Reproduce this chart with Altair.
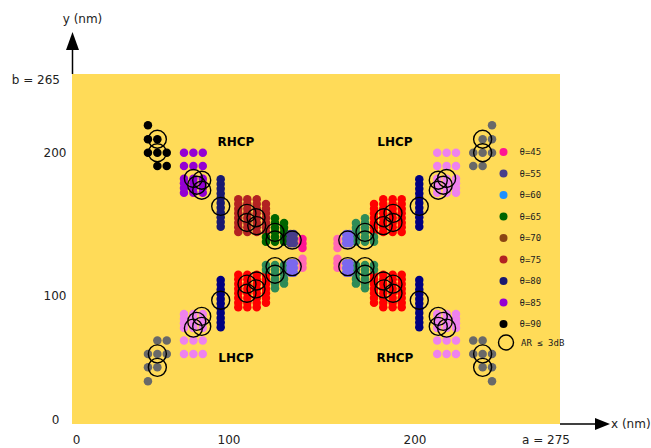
import altair as alt
import pandas as pd

# ---- legend categories -------------------------------------------------
THETA_LABELS = ["θ=45", "θ=55", "θ=60", "θ=65", "θ=70", "θ=75", "θ=80", "θ=85", "θ=90"]
DARK_COLORS = ["deeppink", "darkslateblue", "dodgerblue", "darkgreen", "saddlebrown",
               "firebrick", "midnightblue", "darkviolet", "black"]
LIGHT_COLORS = ["hotpink", "mediumslateblue", "lightskyblue", "seagreen", "peru",
                "red", "navy", "violet", "dimgray"]
AR_LABEL = "AR ≤ 3dB"

# ---- upper-left quadrant of the unit cell (nm) -------------------------
theta90_x = [42.8, 42.8, 48.1, 42.8, 48.1, 53.4, 48.1, 53.4]
theta90_y = [226.2, 215.6, 215.6, 205.4, 205.4, 205.4, 195.3, 195.3]

theta85_x = [63.1, 68.4, 73.7, 63.1, 68.4, 73.7, 63.1, 68.4, 73.7,
             63.1, 68.4, 73.7, 63.1, 68.4, 73.7, 63.1, 68.4, 73.7]
theta85_y = [205.4, 205.4, 205.4, 195.3, 195.3, 195.3, 185.7, 185.7, 185.7,
             182.2, 182.2, 182.2, 178.7, 178.7, 178.7, 175.1, 175.1, 175.1]

theta80_x = [83.8, 83.8, 83.8, 83.8, 83.8, 83.8, 83.8, 83.8, 83.8, 83.8, 83.8]
theta80_y = [185.3, 181.7, 178.2, 174.5, 171.0, 167.3, 163.8, 160.2, 156.6, 152.9, 149.4]

theta75_x = [93.7, 93.7, 93.7, 93.7, 93.7, 93.7, 93.7, 93.7,
             98.8, 98.8, 98.8, 98.8, 98.8, 98.8, 98.8, 98.8,
             104.1, 104.1, 104.1, 104.1, 104.1, 104.1, 104.1, 104.1,
             109.3, 109.3, 109.3, 109.3, 109.3, 109.3, 109.3]
theta75_y = [170.1, 166.6, 163.0, 159.5, 156.0, 152.4, 148.9, 145.4,
             170.1, 166.6, 163.0, 159.5, 156.0, 152.4, 148.9, 145.4,
             170.1, 166.6, 163.0, 159.5, 156.0, 152.4, 148.9, 145.4,
             166.6, 163.0, 159.5, 156.0, 152.4, 148.9, 145.4]

theta65_x = [109.3, 109.3,
             114.4, 114.4, 114.4, 114.4, 114.4, 114.4,
             119.5, 119.5, 119.5, 119.5, 119.5]
theta65_y = [141.6, 138.0,
             155.7, 152.2, 148.6, 145.1, 141.6, 138.0,
             152.2, 148.6, 145.1, 141.6, 138.0]

theta55_x = [123.1, 123.1, 123.1, 125.0, 125.0, 125.0]
theta55_y = [143.9, 140.3, 136.8, 143.9, 140.3, 136.8]

theta45_x = [129.9, 129.9, 129.9]
theta45_y = [140.1, 136.7, 133.3]

# designs with axial ratio below 3 dB
ar_x = [48.1, 48.1, 68.4, 73.1, 70.3, 73.1, 83.8, 98.6, 98.6, 103.7, 104.1, 114.4, 114.4, 124.1]
ar_y = [215.6, 205.4, 185.9, 184.6, 180.8, 177.0, 164.8, 159.5, 152.6, 156.2, 150.2, 145.1, 139.3, 139.3]

# the cell is symmetric about these two lines (nm)
MIRROR_X = 139.75
MIRROR_Y = 129.24

# handedness annotations
hand_text = ["RHCP", "LHCP", "LHCP", "RHCP"]
hand_x = [92.4, 182.0, 92.4, 182.0]
hand_y = [213.5, 213.5, 50.0, 50.0]

# tick labels (drawn as text beside the cell)
y_tick_labels = ["b = 265", "200", "100", "0"]
x_tick_labels = ["0", "100", "200", "a = 275"]

clusters = [
    ("θ=90", theta90_x, theta90_y),
    ("θ=85", theta85_x, theta85_y),
    ("θ=80", theta80_x, theta80_y),
    ("θ=75", theta75_x, theta75_y),
    ("θ=65", theta65_x, theta65_y),
    ("θ=55", theta55_x, theta55_y),
    ("θ=45", theta45_x, theta45_y),
]

dark_rows, light_rows = [], []
for label, xs, ys in clusters:
    for x, y in zip(xs, ys):
        dark_rows.append({"theta": label, "x": x, "y": y})
        light_rows.append({"theta": label, "x": 2 * MIRROR_X - x, "y": y})
        light_rows.append({"theta": label, "x": x, "y": 2 * MIRROR_Y - y})
        light_rows.append({"theta": label, "x": 2 * MIRROR_X - x, "y": 2 * MIRROR_Y - y})

ar_rows = []
for x, y in zip(ar_x, ar_y):
    for xx, yy in [(x, y), (2 * MIRROR_X - x, y), (x, 2 * MIRROR_Y - y),
                   (2 * MIRROR_X - x, 2 * MIRROR_Y - y)]:
        ar_rows.append({"x": xx, "y": yy, "ar": AR_LABEL})

dark_df = pd.DataFrame(dark_rows)
light_df = pd.DataFrame(light_rows)
ar_df = pd.DataFrame(ar_rows)
hand_df = pd.DataFrame({"t": hand_text, "x": hand_x, "y": hand_y})

W, H = 488, 350
LEFT, TOP = 72, 74

xs = alt.X("x:Q", scale=alt.Scale(domain=[0, 275], nice=False, zero=False), axis=None)
ys = alt.Y("y:Q", scale=alt.Scale(domain=[0, 265], nice=False, zero=False), axis=None)

dark = alt.Chart(dark_df).mark_circle(size=72, opacity=1).encode(
    x=xs, y=ys,
    color=alt.Color("theta:N", sort=THETA_LABELS,
                    scale=alt.Scale(domain=THETA_LABELS, range=DARK_COLORS),
                    legend=alt.Legend(orient="none", legendX=427, legendY=73.5, title=None,
                                      symbolType="circle", symbolSize=64, symbolStrokeWidth=0,
                                      labelFont="DejaVu Sans Mono", labelFontSize=9,
                                      labelColor="#222222", labelOffset=11.5,
                                      rowPadding=11.5, padding=0)),
)

light = alt.Chart(light_df).mark_circle(size=72, opacity=1).encode(
    x=xs, y=ys,
    color=alt.Color("theta:N", scale=alt.Scale(domain=THETA_LABELS, range=LIGHT_COLORS),
                    legend=None),
)

rings = alt.Chart(ar_df).mark_point(filled=False, size=324, strokeWidth=1.4, opacity=1).encode(
    x=xs, y=ys,
    shape=alt.Shape("ar:N", scale=alt.Scale(domain=[AR_LABEL], range=["circle"]),
                    legend=alt.Legend(orient="none", legendX=425.5, legendY=260, title=None,
                                      symbolSize=225, symbolStrokeWidth=1.4,
                                      symbolStrokeColor="black", symbolFillColor="transparent",
                                      labelFont="DejaVu Sans Mono", labelFontSize=9,
                                      labelColor="#222222", labelOffset=6.5, padding=0)),
    color=alt.value("black"),
)

hands = alt.Chart(hand_df).mark_text(font="DejaVu Sans", fontSize=12, fontWeight="bold",
                                      color="black").encode(x=xs, y=ys, text="t:N")

one = pd.DataFrame({"k": [0]})


def label_at(text, px, py, align="center"):
    return alt.Chart(pd.DataFrame({"t": [text]})).mark_text(
        font="DejaVu Sans", fontSize=12, color="#222222", align=align, baseline="middle"
    ).encode(x=alt.value(px - LEFT), y=alt.value(py - TOP), text="t:N")


y_label_pos = [(60, 80, "right"), (55, 153, "center"), (55, 296, "center"), (55.5, 420, "center")]
x_label_pos = [(76.5, 440), (229, 440), (415, 440), (546, 440)]

decor = []
for t, (px, py, al) in zip(y_tick_labels, y_label_pos):
    decor.append(label_at(t, px, py, al))
for t, (px, py) in zip(x_tick_labels, x_label_pos):
    decor.append(label_at(t, px, py))
decor.append(label_at("y (nm)", 82.5, 19))
decor.append(label_at("x (nm)", 611, 424, "left"))

# axis arrows
y_shaft = alt.Chart(one).mark_rule(color="black", strokeWidth=1.5).encode(
    x=alt.value(0.5), y=alt.value(0), y2=alt.value(-26))
y_head = alt.Chart(one).mark_point(shape="M0,-1L0.72,1L-0.72,1Z", filled=True, size=324,
                                   color="black", opacity=1).encode(
    x=alt.value(0.5), y=alt.value(-33))
x_shaft = alt.Chart(one).mark_rule(color="black", strokeWidth=1.5).encode(
    x=alt.value(W), x2=alt.value(W + 36), y=alt.value(H))
x_head = alt.Chart(one).mark_point(shape="M1,0L-1,-0.8L-1,0.8Z", filled=True, size=225,
                                   color="black", opacity=1).encode(
    x=alt.value(W + 42.5), y=alt.value(H))

chart = alt.layer(dark, light, rings, hands, y_shaft, y_head, x_shaft, x_head, *decor).resolve_scale(
    color="independent"
).properties(
    width=W, height=H,
    autosize=alt.AutoSizeParams(type="none"),
    padding={"left": LEFT, "top": TOP, "right": 651 - LEFT - W, "bottom": 448 - TOP - H},
    background="white",
).configure_view(fill="#FFDB58", strokeWidth=0)

chart.save("out.html", embed_options={"renderer": "svg", "actions": False})
